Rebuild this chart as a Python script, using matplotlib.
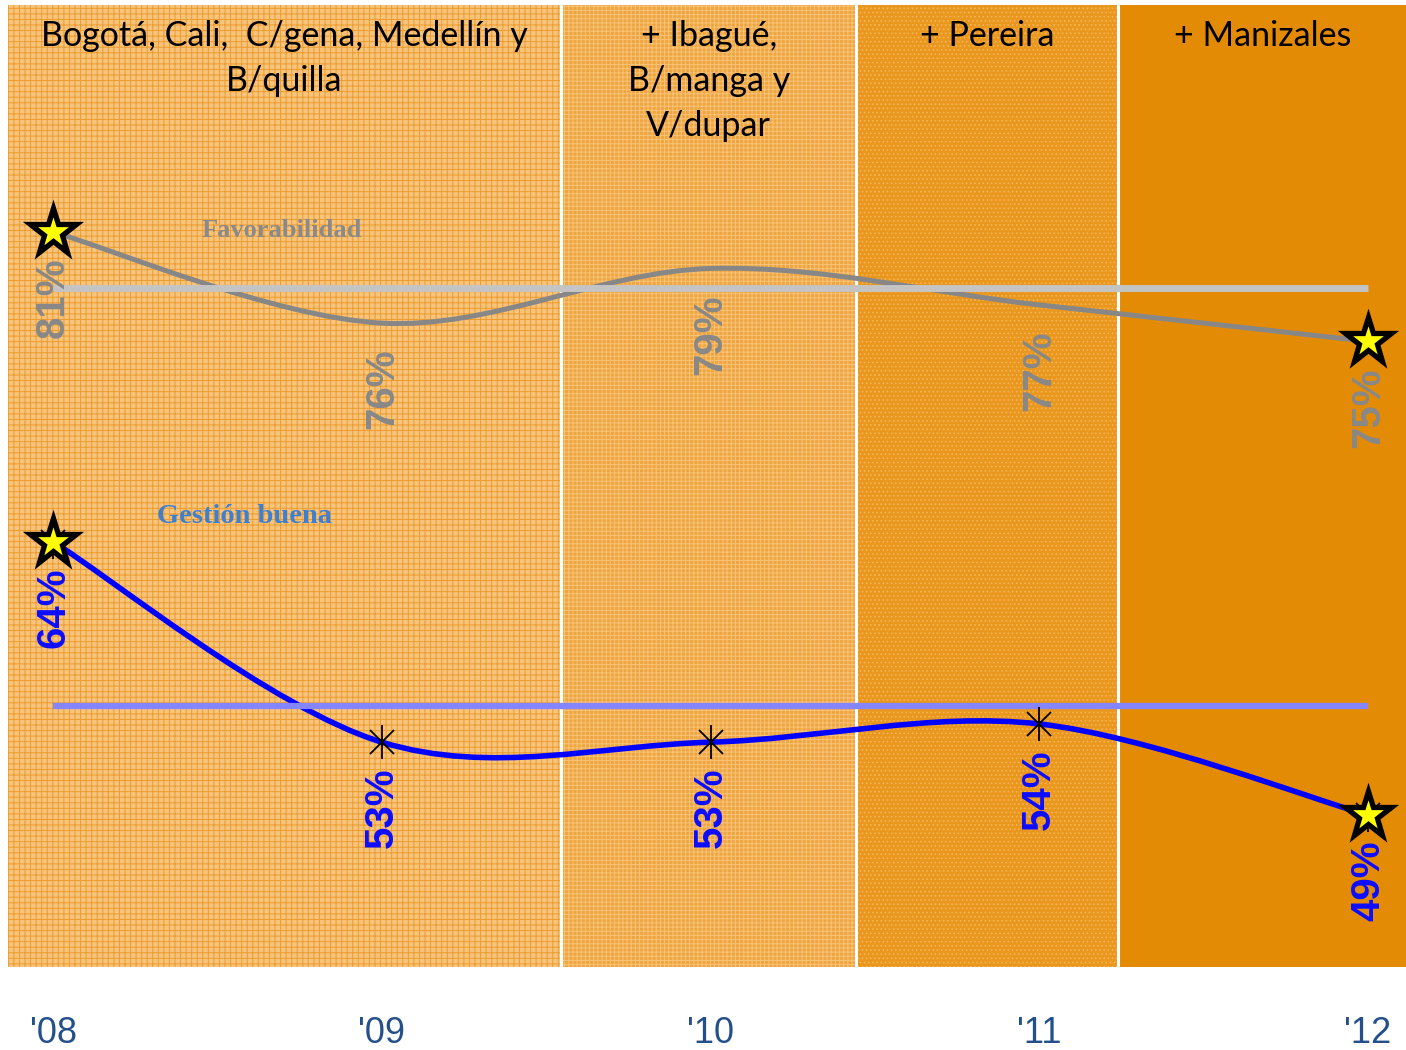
import numpy as np
import matplotlib
matplotlib.use('Agg')
import matplotlib.pyplot as plt
from matplotlib.path import Path
from matplotlib.patches import PathPatch
from matplotlib.markers import MarkerStyle

# ---------------- data ----------------
years = ["'08", "'09", "'10", "'11", "'12"]
favorabilidad = [81, 76, 79, 77, 75]
gestion = [64, 53, 53, 54, 49]
fav_ref = [77.9, 77.9, 77.9, 77.9, 77.9]
ges_ref = [55.0, 55.0, 55.0, 55.0, 55.0]
fav_labels = ["81%", "76%", "79%", "77%", "75%"]
ges_labels = ["64%", "53%", "53%", "54%", "49%"]
headers = ["Bogotá, Cali,  C/gena, Medellín y\nB/quilla",
           "+ Ibagué,\nB/manga y\nV/dupar",
           "+ Pereira",
           "+ Manizales"]
series_names = ["Favorabilidad", "Gestión buena"]

# ---------------- layout ----------------
W, H = 1406, 1050
fig = plt.figure(figsize=(W / 100, H / 100), dpi=100)
ax = fig.add_axes([8 / W, (H - 967) / H, 1398 / W, 962 / H])
x = np.arange(len(years))
ax.set_xlim(-0.1369, 4.1156)
ax.set_ylim(40.66, 93.46)

band_edges = [-0.1369, 1.545, 2.444, 3.241, 4.1156]
band_styles = [
    dict(fc='#f7c47e', hatch='+++', ec='#ee9c2c'),
    dict(fc='#f0a53e', hatch='++++', ec='#f6c37a'),
    dict(fc='#ea971e', hatch='....', ec='#f3b45a'),
    dict(fc='#e48b06', hatch=None, ec='#e48b06'),
]
plt.rcParams['hatch.linewidth'] = 0.7
for i in range(4):
    st = band_styles[i]
    ax.axvspan(band_edges[i], band_edges[i + 1], facecolor=st['fc'],
               edgecolor=st['ec'], hatch=st['hatch'], linewidth=0, zorder=0)
for e in band_edges[1:-1]:
    ax.axvline(e, color='white', lw=2.2, zorder=0.5)

# header texts
for i, t in enumerate(headers):
    xc = (band_edges[i] + band_edges[i + 1]) / 2
    ax.text(xc, 0.984, t, transform=ax.get_xaxis_transform(), ha='center',
            va='top', fontsize=24.5, family='Lato', color='black',
            linespacing=1.5, zorder=5)


def smooth_path(xs, ys):
    pts = np.column_stack([xs, ys]).astype(float)
    n = len(pts)
    verts = [pts[0]]
    codes = [Path.MOVETO]
    for i in range(n - 1):
        p0 = pts[max(i - 1, 0)]
        p1 = pts[i]
        p2 = pts[i + 1]
        p3 = pts[min(i + 2, n - 1)]
        verts += [p1 + (p2 - p0) / 6, p2 - (p3 - p1) / 6, p2]
        codes += [Path.CURVE4] * 3
    return Path(verts, codes)


# data curves
ax.add_patch(PathPatch(smooth_path(x, favorabilidad), fill=False,
                       ec='#878787', lw=3.6, zorder=2, capstyle='butt'))
ax.add_patch(PathPatch(smooth_path(x, gestion), fill=False,
                       ec='#0000ff', lw=4.0, zorder=2, capstyle='butt'))

# reference lines
ax.plot(x, fav_ref, color='#c4c4c4', lw=5, zorder=3, solid_capstyle='butt')
ax.plot(x, ges_ref, color='#8585ff', lw=4.5, zorder=3, solid_capstyle='butt')

# asterisk markers for gestion
ax.plot(x, gestion, ls='none', marker='x', ms=17, mec='black', mew=1.3, zorder=4)
ax.plot(x, gestion, ls='none', marker='|', ms=24, mec='black', mew=1.3, zorder=4)

# star markers at the ends
star = MarkerStyle('*', joinstyle='miter')
for vals in (favorabilidad, gestion):
    ax.plot([x[0], x[-1]], [vals[0], vals[-1]], ls='none', marker=star,
            ms=35, mfc='#ffff00', mec='black', mew=3.8, zorder=6)

# value labels
for xi, v, lab in zip(x, favorabilidad, fav_labels):
    ax.annotate(lab, (xi, v), xytext=(0, -47.5), textcoords='offset points',
                ha='center', va='center', rotation=90, fontsize=29,
                fontweight='bold', family='Liberation Sans', color='#888888',
                zorder=7)
for xi, v, lab in zip(x, gestion, ges_labels):
    ax.annotate(lab, (xi, v), xytext=(0, -47.5), textcoords='offset points',
                ha='center', va='center', rotation=90, fontsize=29,
                fontweight='bold', family='Liberation Sans', color='#0d0dff',
                zorder=7)

# series names
ax.text(0.695, 81.1, series_names[0], ha='center', va='center', fontsize=19,
        family='Liberation Serif', fontweight='bold', color='#8a8a8a', zorder=7)
ax.text(0.584, 65.36, series_names[1], ha='center', va='center', fontsize=20.5,
        family='Liberation Serif', fontweight='bold', color='#3f7fcf', zorder=7)

# axis
ax.set_xticks(x)
ax.set_xticklabels(years, family='Liberation Sans', fontsize=26, color='#23508a')
ax.tick_params(axis='x', length=0, pad=35)
ax.set_yticks([])
for s in ax.spines.values():
    s.set_visible(False)

fig.savefig('out.png', dpi=100)
